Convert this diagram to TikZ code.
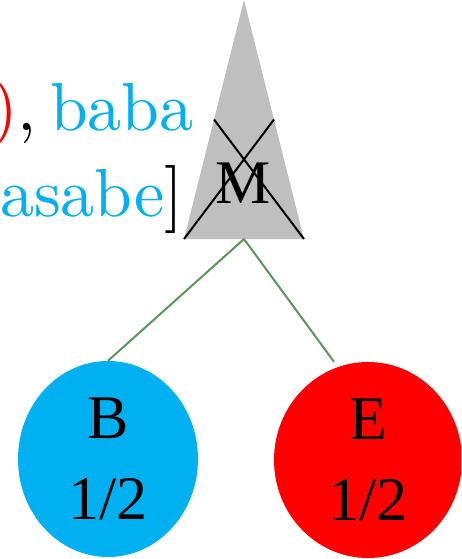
\documentclass[tikz,border=0pt]{standalone}
\usepackage{fontspec}
\newfontfamily\timesfont{Liberation Serif}
\newfontfamily\cmfont[Extension=.otf]{lmroman10-regular}
\usepackage{xcolor}
\usetikzlibrary{calc,shapes.geometric,positioning}
\definecolor{skyblue}{HTML}{00B0F0}
\definecolor{leafred}{HTML}{FF0000}
\definecolor{linkgreen}{HTML}{5A965A}

\begin{document}
\begin{tikzpicture}[x=1pt, y=-1pt,
                link/.style={draw=linkgreen, line width=2pt}]
        \tikzset{
                basic/.style = {inner sep=0pt, font=\timesfont\fontsize{62}{81}\selectfont},
                leaf/.style  = {basic, ellipse, align=center, minimum height=196pt},
                seq/.style   = {inner sep=0pt, font=\cmfont\fontsize{68}{83}\selectfont, anchor=base east}
        }
        \useasboundingbox (0,0) rectangle (461,559);
        \clip (0,0) rectangle (461,559);

        % sequence text, cut at the left
        \node[seq] (s1) at (194,131) {\textcolor{leafred}{)},\hspace{0.2em}\textcolor{skyblue}{baba}};
        \node[seq] (s2) at (184,216) {\textcolor{skyblue}{asabe}]};

        % the crossed out subtree
        \coordinate (apex) at (244,0);
        \coordinate (bl) at (184,239);
        \coordinate (br) at (304,239);
        \coordinate (base) at ($(bl)!0.5!(br)$);
        \fill[gray!50] (apex) -- (br) -- (bl) -- cycle;
        \node[basic, anchor=base] (M) at (243,203) {M};
        \draw[line width=2pt] ($(apex)!0.5!(bl)$) -- (br);
        \draw[line width=2pt] ($(apex)!0.5!(br)$) -- (bl);

        % the two leaves
        \node[leaf, fill=skyblue, minimum width=180pt] (B) at (108,459) {B\\1/2};
        \node[leaf, fill=leafred, minimum width=188pt] (E) at (368,460) {E\\1/2};

        % lines from the subtree to its leaves
        \draw[link] (base) -- (B.north);
        \draw[link] (base) -- ([xshift=-34pt]E.north);
\end{tikzpicture}
\end{document}
